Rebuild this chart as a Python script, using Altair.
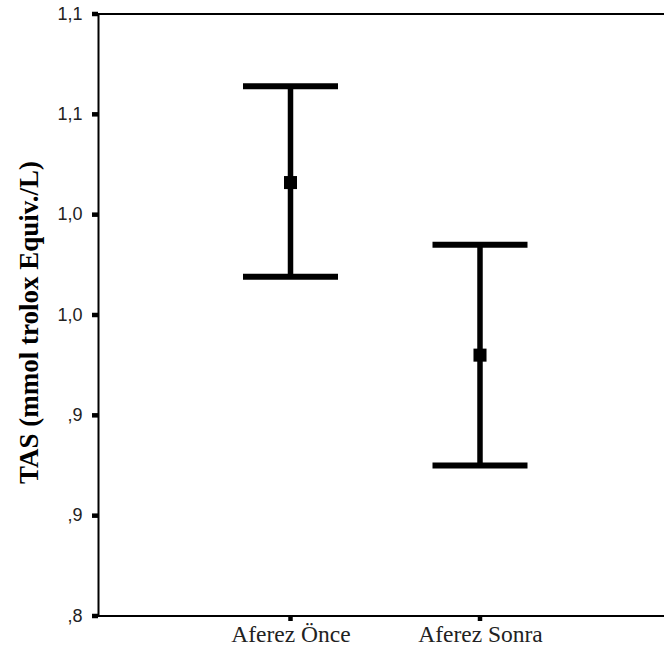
import altair as alt
import pandas as pd

# ---- data ----
groups = ["Aferez Önce", "Aferez Sonra"]
means = [1.016, 0.930]
upper = [1.064, 0.985]
lower = [0.969, 0.875]

tick_values = [0.80, 0.85, 0.90, 0.95, 1.00, 1.05, 1.10]
tick_labels = [",8", ",9", ",9", "1,0", "1,0", "1,1", "1,1"]

y_title = "TAS (mmol trolox Equiv./L)"

df = pd.DataFrame({"group": groups, "mean": means, "upper": upper, "lower": lower})
ticks_df = pd.DataFrame({"v": tick_values})

label_expr = ""
for v, l in zip(tick_values, tick_labels):
    label_expr += f"abs(datum.value - {v}) < 0.001 ? '{l}' : "
label_expr += "''"

W, H = 566, 602

x_scale = alt.Scale(type="point", domain=groups, range=[192.5, 382], padding=0)
y_scale = alt.Scale(domain=[tick_values[0], tick_values[-1]], nice=False, zero=False)

x_axis = alt.Axis(
    title=None, domain=False, ticks=False,
    labelFont="Liberation Serif", labelFontSize=23.5,
    labelColor="#222222", labelPadding=6, labelAngle=0, grid=False,
)
y_axis = alt.Axis(
    title=y_title, values=tick_values, labelExpr=label_expr,
    domain=True, domainColor="black", domainWidth=2, ticks=False,
    labelFont="Liberation Sans", labelFontSize=18, labelColor="#222222",
    labelPadding=16, grid=False,
    titleFont="Liberation Serif", titleFontSize=27, titleFontWeight="bold",
    titleColor="black", titleX=-61, titleY=308, titleAngle=270,
    titleAlign="center", titleBaseline="alphabetic",
)

X = alt.X("group:N", scale=x_scale, axis=x_axis, sort=groups)

base = alt.Chart(df)

bars = base.mark_rule(strokeWidth=5.5, color="black").encode(
    x=X,
    y=alt.Y("lower:Q", scale=y_scale, axis=y_axis),
    y2="upper:Q",
)
cap_u = base.mark_tick(size=95, thickness=6, color="black", orient="horizontal", opacity=1).encode(
    x=X, y=alt.Y("upper:Q", scale=y_scale, axis=y_axis)
)
cap_l = base.mark_tick(size=95, thickness=6, color="black", orient="horizontal", opacity=1).encode(
    x=X, y=alt.Y("lower:Q", scale=y_scale, axis=y_axis)
)
mean_pt = base.mark_square(size=170, color="black", opacity=1, filled=True).encode(
    x=X, y=alt.Y("mean:Q", scale=y_scale, axis=y_axis)
)

# axis tick squares as drawn in the reference
y_ticks = alt.Chart(ticks_df).mark_tick(size=6, thickness=4.5, color="black", orient="horizontal", opacity=1).encode(
    x=alt.value(-3), y=alt.Y("v:Q", scale=y_scale, axis=y_axis)
)
x_ticks = base.mark_tick(size=5, thickness=4.5, color="black", orient="vertical", opacity=1).encode(
    x=X, y=alt.value(H + 2.5)
)

top_line = base.mark_rule(color="black", strokeWidth=2).encode(
    x=alt.value(0), x2=alt.value(W), y=alt.value(0)
)
bottom_line = base.mark_rule(color="black", strokeWidth=2).encode(
    x=alt.value(0), x2=alt.value(W), y=alt.value(H)
)

chart = (
    alt.layer(bars, cap_u, cap_l, mean_pt, top_line, bottom_line, y_ticks, x_ticks)
    .properties(
        width=W, height=H,
        padding={"left": 98, "top": 14, "right": 0, "bottom": 42},
        autosize=alt.AutoSizeParams(type="none"),
        background="white",
    )
    .configure_view(strokeOpacity=0)
)

chart.save("out.html", embed_options={"renderer": "svg", "actions": False})
